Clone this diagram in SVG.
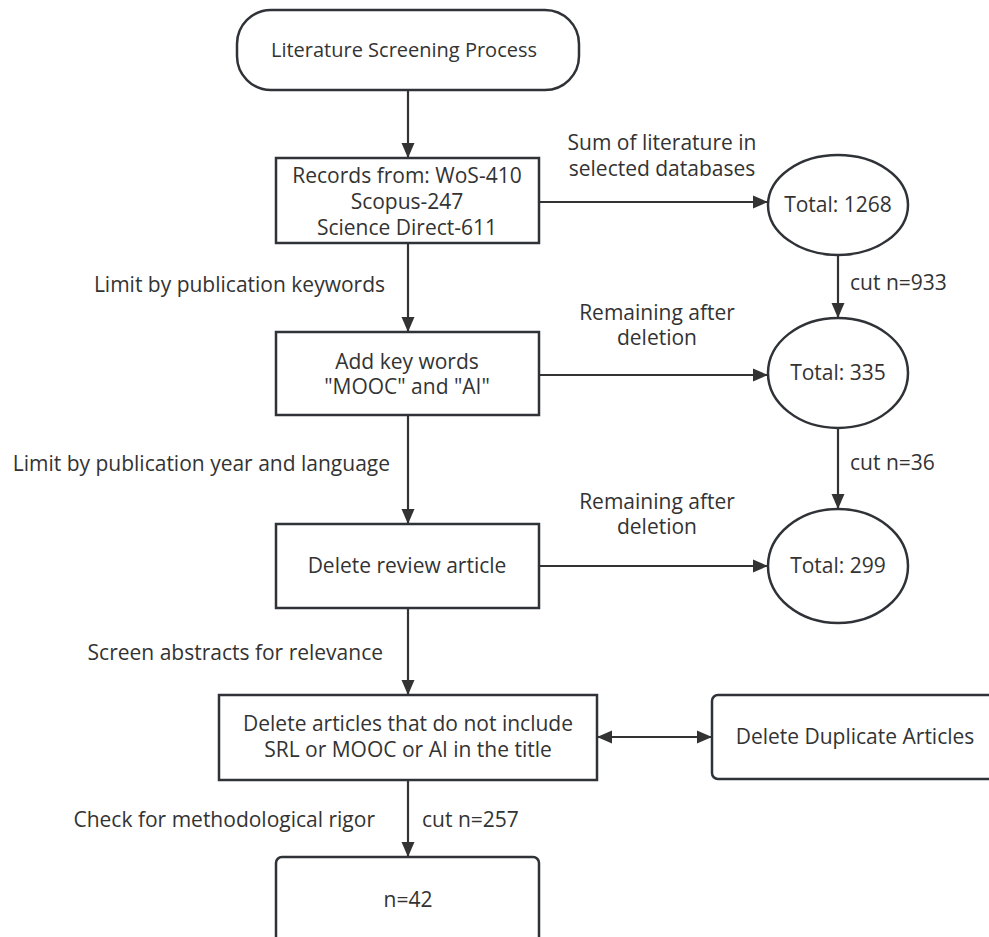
<svg xmlns="http://www.w3.org/2000/svg" width="989" height="937" viewBox="0 0 989 937">
<style>
.box{fill:#fff;stroke:#2f3337;stroke-width:2.5}
.t{font-family:"Open Sans","Noto Sans","Liberation Sans",sans-serif;font-size:21px;fill:#333;text-anchor:middle}
.l{font-family:"Open Sans","Noto Sans","Liberation Sans",sans-serif;font-size:21px;fill:#333}
.e{text-anchor:end}
.s{font-size:20px}
.c{fill:none;stroke:#333;stroke-width:2.2}
</style>
<defs>
<marker id="arr" markerUnits="userSpaceOnUse" markerWidth="16" markerHeight="14" refX="15" refY="7" orient="auto-start-reverse">
<path d="M0,0.5 L15,7 L0,13.5 Z" fill="#333"/>
</marker>
</defs>
<rect width="989" height="937" fill="#fff"/>
<g id="connectors">
<line class="c" x1="408" y1="90" x2="408" y2="158" marker-end="url(#arr)"/>
<line class="c" x1="538" y1="202" x2="768" y2="202" marker-end="url(#arr)"/>
<line class="c" x1="838" y1="255" x2="838" y2="318" marker-end="url(#arr)"/>
<line class="c" x1="408" y1="243" x2="408" y2="332" marker-end="url(#arr)"/>
<line class="c" x1="538" y1="375" x2="768" y2="375" marker-end="url(#arr)"/>
<line class="c" x1="838" y1="428" x2="838" y2="509" marker-end="url(#arr)"/>
<line class="c" x1="408" y1="415" x2="408" y2="524" marker-end="url(#arr)"/>
<line class="c" x1="539" y1="566" x2="768" y2="566" marker-end="url(#arr)"/>
<line class="c" x1="408" y1="608" x2="408" y2="695" marker-end="url(#arr)"/>
<line class="c" x1="597" y1="737" x2="712" y2="737" marker-start="url(#arr)" marker-end="url(#arr)"/>
<line class="c" x1="408" y1="780" x2="408" y2="857" marker-end="url(#arr)"/>
<text class="t" x="662" y="150">Sum of literature in</text>
<text class="t" x="662" y="176">selected databases</text>
<text class="l" x="850" y="290">cut n=933</text>
<text class="t" x="657" y="320">Remaining after</text>
<text class="t" x="657" y="345">deletion</text>
<text class="l" x="850" y="470">cut n=36</text>
<text class="t" x="657" y="509">Remaining after</text>
<text class="t" x="657" y="534">deletion</text>
<text class="l e" x="385" y="292">Limit by publication keywords</text>
<text class="l e" x="390" y="471">Limit by publication year and language</text>
<text class="l e" x="383" y="660">Screen abstracts for relevance</text>
<text class="l e" x="375" y="827">Check for methodological rigor</text>
<text class="l" x="422" y="827">cut n=257</text>
</g>
<g id="start">
<rect class="box" x="237" y="10" width="342" height="80" rx="34" ry="34"/>
<text class="t s" x="404" y="57">Literature Screening Process</text>
</g>
<g id="records">
<rect class="box" x="276" y="158" width="263" height="85"/>
<text class="t" x="407" y="183">Records from: WoS-410</text>
<text class="t" x="407" y="209">Scopus-247</text>
<text class="t" x="407" y="235">Science Direct-611</text>
</g>
<g id="total1268">
<ellipse class="box" cx="838" cy="205" rx="70" ry="50"/>
<text class="t" x="838" y="212">Total: 1268</text>
</g>
<g id="keywords">
<rect class="box" x="276" y="332" width="263" height="83"/>
<text class="t" x="407" y="369">Add key words</text>
<text class="t" x="407" y="394">"MOOC" and "AI"</text>
</g>
<g id="total335">
<ellipse class="box" cx="838" cy="373" rx="70" ry="55"/>
<text class="t" x="838" y="380">Total: 335</text>
</g>
<g id="review">
<rect class="box" x="276" y="524" width="263" height="84"/>
<text class="t" x="407" y="573">Delete review article</text>
</g>
<g id="total299">
<ellipse class="box" cx="838" cy="566" rx="70" ry="57"/>
<text class="t" x="838" y="573">Total: 299</text>
</g>
<g id="title">
<rect class="box" x="219" y="695" width="378" height="85"/>
<text class="t" x="408" y="731">Delete articles that do not include</text>
<text class="t" x="408" y="757">SRL or MOOC or AI in the title</text>
</g>
<g id="duplicate">
<rect class="box" x="712" y="695" width="286" height="84" rx="6" ry="6"/>
<text class="t" x="855" y="744">Delete Duplicate Articles</text>
</g>
<g id="result">
<rect class="box" x="276" y="857" width="263" height="95" rx="6" ry="6"/>
<text class="t" x="408" y="907">n=42</text>
</g>
</svg>
